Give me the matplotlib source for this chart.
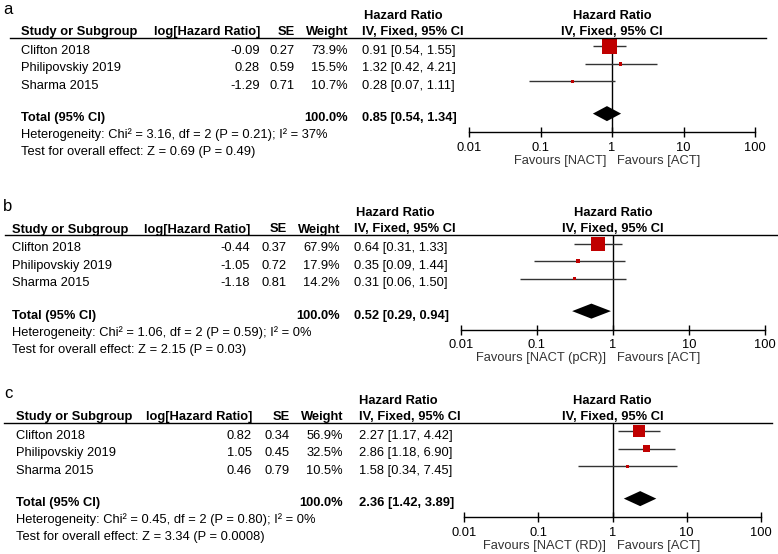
import matplotlib
matplotlib.use("Agg")
import matplotlib.pyplot as plt
from matplotlib.transforms import Affine2D
from matplotlib.lines import Line2D
from matplotlib.ticker import NullLocator

plt.rcParams["font.family"] = ["Liberation Sans", "DejaVu Sans"]
plt.rcParams["font.size"] = 9.3

# data
studies = ["Clifton 2018", "Philipovskiy 2019", "Sharma 2015"]

a_log = [-0.09, 0.28, -1.29]
a_se = [0.27, 0.59, 0.71]
a_weight = [73.9, 15.5, 10.7]
a_hr = [0.91, 1.32, 0.28]
a_lo = [0.54, 0.42, 0.07]
a_hi = [1.55, 4.21, 1.11]
a_total = [0.85, 0.54, 1.34]
a_het = "Heterogeneity: Chi² = 3.16, df = 2 (P = 0.21); I² = 37%"
a_test = "Test for overall effect: Z = 0.69 (P = 0.49)"
a_fav = "Favours [NACT]"

b_log = [-0.44, -1.05, -1.18]
b_se = [0.37, 0.72, 0.81]
b_weight = [67.9, 17.9, 14.2]
b_hr = [0.64, 0.35, 0.31]
b_lo = [0.31, 0.09, 0.06]
b_hi = [1.33, 1.44, 1.50]
b_total = [0.52, 0.29, 0.94]
b_het = "Heterogeneity: Chi² = 1.06, df = 2 (P = 0.59); I² = 0%"
b_test = "Test for overall effect: Z = 2.15 (P = 0.03)"
b_fav = "Favours [NACT (pCR)]"

c_log = [0.82, 1.05, 0.46]
c_se = [0.34, 0.45, 0.79]
c_weight = [56.9, 32.5, 10.5]
c_hr = [2.27, 2.86, 1.58]
c_lo = [1.17, 1.18, 0.34]
c_hi = [4.42, 6.90, 7.45]
c_total = [2.36, 1.42, 3.89]
c_het = "Heterogeneity: Chi² = 0.45, df = 2 (P = 0.80); I² = 0%"
c_test = "Test for overall effect: Z = 3.34 (P = 0.0008)"
c_fav = "Favours [NACT (RD)]"

total_weight = "100.0%"
ticks = [0.01, 0.1, 1, 10, 100]
tick_labels = ["0.01", "0.1", "1", "10", "100"]

W, H = 778, 554
fig = plt.figure(figsize=(W / 100, H / 100), dpi=100)
px = Affine2D().scale(1 / W, -1 / H).translate(0, 1) + fig.transFigure

ROW = 17.5          # pixels per table row
TOTAL_ROW = 3.85
RED = "#C00000"
BOLD = dict(fontweight="bold", fontsize=9.3)


def txt(x, y, s, **kw):
    fig.text(x, y, s, transform=px, va="baseline", **kw)


panels = [
    dict(name="a", log=a_log, se=a_se, w=a_weight, hr=a_hr, lo=a_lo, hi=a_hi,
         tot=a_total, het=a_het, test=a_test, fav=a_fav,
         lab_x=3, st_x=21, log_r=260, se_r=295, w_r=348, ci_l=362, hr_c=403,
         r0=10, r1=766, top=37.5, ax_l=469, ax_r=755),
    dict(name="b", log=b_log, se=b_se, w=b_weight, hr=b_hr, lo=b_lo, hi=b_hi,
         tot=b_total, het=b_het, test=b_test, fav=b_fav,
         lab_x=3, st_x=12, log_r=250, se_r=286.5, w_r=340, ci_l=354, hr_c=395,
         r0=5, r1=777, top=235, ax_l=461, ax_r=765),
    dict(name="c", log=c_log, se=c_se, w=c_weight, hr=c_hr, lo=c_lo, hi=c_hi,
         tot=c_total, het=c_het, test=c_test, fav=c_fav,
         lab_x=4, st_x=16, log_r=252, se_r=290, w_r=343, ci_l=359, hr_c=398,
         r0=4, r1=772, top=422.5, ax_l=464, ax_r=761),
]

ylim = (4.92, -0.5)
ax_h = (ylim[0] - ylim[1]) * ROW

for p in panels:
    top = p["top"]

    def row_y(r):
        return top + (r - ylim[1]) * ROW

    # panel letter + headers
    txt(p["lab_x"], top - 24, p["name"], fontsize=12)
    txt(p["hr_c"], top - 18.5, "Hazard Ratio", ha="center", **BOLD)
    hy = top - 2.5
    txt(p["st_x"], hy, "Study or Subgroup", **BOLD)
    txt(p["log_r"], hy, "log[Hazard Ratio]", ha="right", **BOLD)
    txt(p["se_r"], hy, "SE", ha="right", **BOLD)
    txt(p["w_r"], hy, "Weight", ha="right", **BOLD)
    txt(p["ci_l"], hy, "IV, Fixed, 95% CI", **BOLD)
    mid = (p["ax_l"] + p["ax_r"]) / 2
    txt(mid, top - 18.5, "Hazard Ratio", ha="center", **BOLD)
    txt(mid, hy, "IV, Fixed, 95% CI", ha="center", **BOLD)
    fig.add_artist(Line2D([p["r0"], p["r1"]], [top, top], transform=px, color="black", lw=1))

    for i, s in enumerate(studies):
        y = row_y(i) + 7.7
        txt(p["st_x"], y, s)
        txt(p["log_r"], y, f"{p['log'][i]:.2f}", ha="right")
        txt(p["se_r"], y, f"{p['se'][i]:.2f}", ha="right")
        txt(p["w_r"], y, f"{p['w'][i]:.1f}%", ha="right")
        txt(p["ci_l"], y, f"{p['hr'][i]:.2f} [{p['lo'][i]:.2f}, {p['hi'][i]:.2f}]")

    est, lo, hi = p["tot"]
    ty = row_y(TOTAL_ROW) + 7.5
    txt(p["st_x"], ty, "Total (95% CI)", **BOLD)
    txt(p["w_r"], ty, total_weight, ha="right", **BOLD)
    txt(p["ci_l"], ty, f"{est:.2f} [{lo:.2f}, {hi:.2f}]", **BOLD)
    txt(p["st_x"], ty + 17, p["het"])
    txt(p["st_x"], ty + 34, p["test"])

    # forest plot
    ax = fig.add_axes([p["ax_l"] / W, 1 - (top + ax_h) / H,
                       (p["ax_r"] - p["ax_l"]) / W, ax_h / H])
    ax.patch.set_alpha(0)
    ax.set_xscale("log")
    ax.set_xlim(0.01, 100)
    ax.set_ylim(*ylim)
    for side in ("top", "left", "right"):
        ax.spines[side].set_visible(False)
    ax.spines["bottom"].set_linewidth(1)
    ax.set_xticks(ticks)
    ax.set_xticklabels(tick_labels)
    ax.xaxis.set_minor_locator(NullLocator())
    ax.set_yticks([])
    ax.tick_params(axis="x", direction="inout", length=6.5, width=1, pad=3.5, labelsize=9.3)

    rows = list(range(len(studies)))
    ax.axvline(1, color="black", lw=1)
    ax.hlines(rows, p["lo"], p["hi"], color="#333333", lw=1)
    sides = [(0.7 + 0.193 * w) * 0.72 for w in p["w"]]
    ax.scatter(p["hr"], rows, marker="s", s=[s ** 2 for s in sides], color=RED,
               linewidths=0, zorder=3)
    dh = 0.43
    ax.fill([lo, est, hi, est], [TOTAL_ROW, TOTAL_ROW - dh, TOTAL_ROW, TOTAL_ROW + dh],
            color="black", lw=0, zorder=3)

    axis_y = top + ax_h
    txt(606, axis_y + 31.5, p["fav"], ha="right", color="#333333")
    txt(617.5, axis_y + 31.5, "Favours [ACT]", color="#333333")

fig.savefig("out.png", dpi=100)
